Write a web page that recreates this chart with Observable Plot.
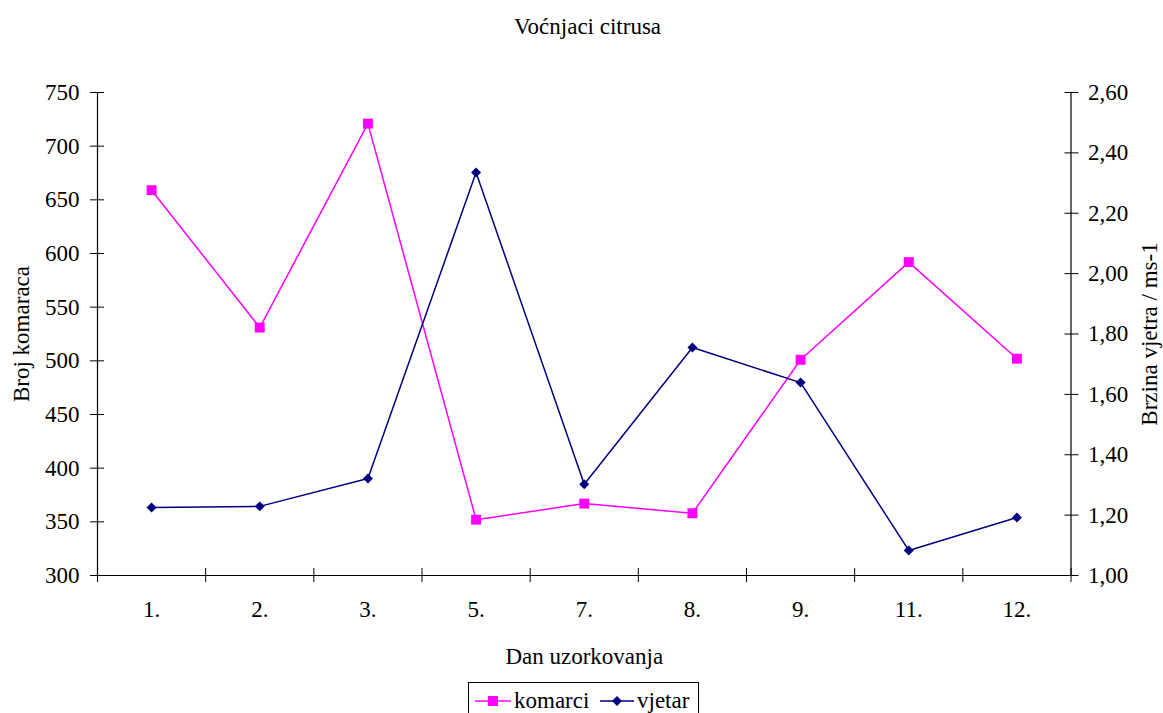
<!DOCTYPE html>
<html><head><meta charset="utf-8">
<script src="https://cdn.jsdelivr.net/npm/d3@7"></script>
<script src="https://cdn.jsdelivr.net/npm/@observablehq/plot@0.6"></script>
<style>
body{margin:0;width:1163px;height:713px;overflow:hidden;background:#fff;font-family:"Liberation Serif","Times New Roman",serif;color:#000;position:relative;}
#title{height:54px;line-height:54px;text-align:center;font-size:23px;padding-left:12px;}
#chart svg{display:block;}
#chart svg text{font-family:"Liberation Serif","Times New Roman",serif !important;}
#legend{position:absolute;left:468px;top:682px;width:231px;height:40px;border:1px solid #000;box-sizing:border-box;font-size:23px;}
#legend .it{position:absolute;top:4px;display:flex;align-items:center;height:28px;}
#legend svg{display:block;margin-right:3px;}
</style></head><body>
<div id="title">Voćnjaci citrusa</div>
<div id="chart"></div>
<div id="legend">
  <div class="it" style="left:6px"><svg width="36" height="14"><line x1="0" y1="7" x2="36" y2="7" stroke="#FF00FF" stroke-width="1.5"/><rect x="13" y="2" width="10" height="10" fill="#FF00FF"/></svg><span>komarci</span></div>
  <div class="it" style="left:131px"><svg width="34" height="14"><line x1="0" y1="7" x2="34" y2="7" stroke="#000080" stroke-width="1.5"/><path d="M17,2L22,7L17,12L12,7Z" fill="#000080"/></svg><span>vjetar</span></div>
</div>
<script>
const days = ["1.","2.","3.","5.","7.","8.","9.","11.","12."];
const komarci = [659, 531, 721, 352, 367, 358, 501, 592, 502];
const vjetar = [1.225, 1.229, 1.321, 2.335, 1.302, 1.755, 1.639, 1.083, 1.192];
const leftTicks = [300, 350, 400, 450, 500, 550, 600, 650, 700, 750];
const rightTicks = [1.0, 1.2, 1.4, 1.6, 1.8, 2.0, 2.2, 2.4, 2.6];
const leftDomain = [300, 750];
const rightDomain = [1.0, 2.6];

const toLeft = d3.scaleLinear(rightDomain, leftDomain);
const rows = days.map((d, i) => ({day: d, i: i + 0.5, komarci: komarci[i], vjetar: toLeft(vjetar[i])}));
const n = days.length;
const fmtR = v => d3.format(".2f")(toLeft.invert(v)).replace(".", ",");

const chart = Plot.plot({
  width: 1163, height: 628,
  marginLeft: 97, marginRight: 92.5, marginTop: 38, marginBottom: 107,
  style: {fontFamily: '"Liberation Serif","Times New Roman",serif', fontSize: "23px", color: "#000", background: "transparent"},
  x: {domain: [0, n]},
  y: {domain: leftDomain},
  marks: [
    Plot.ruleX([0, n], {stroke: "#000", strokeWidth: 1.2}),
    Plot.ruleY([leftDomain[0]], {stroke: "#000", strokeWidth: 1.2}),
    Plot.axisY(leftTicks, {anchor: "left", tickSize: 14, dx: 7, tickFormat: () => "", label: null}),
    Plot.axisY(leftTicks, {anchor: "left", tickSize: 0, tickPadding: 18, label: "Broj komaraca", labelAnchor: "center", labelOffset: 85, labelArrow: "none"}),
    Plot.axisY(rightTicks.map(toLeft), {anchor: "right", tickSize: 14, dx: -7, tickFormat: () => "", label: null}),
    Plot.axisY(rightTicks.map(toLeft), {anchor: "right", tickSize: 0, tickPadding: 17, tickFormat: fmtR, label: "Brzina vjetra / ms-1", labelAnchor: "center", labelOffset: 86, labelArrow: "none"}),
    Plot.axisX(d3.range(0, n + 1), {anchor: "bottom", tickSize: 14, dy: -7, tickFormat: () => "", label: null}),
    Plot.axisX(d3.range(n).map(i => i + 0.5), {anchor: "bottom", tickSize: 0, tickPadding: 25, tickFormat: v => days[Math.floor(v)], label: "Dan uzorkovanja", labelAnchor: "center", labelOffset: 88, labelArrow: "none"}),
    Plot.line(rows, {x: "i", y: "komarci", stroke: "#FF00FF", strokeWidth: 1.5}),
    Plot.dot(rows, {x: "i", y: "komarci", symbol: "square", r: 5.6, fill: "#FF00FF"}),
    Plot.line(rows, {x: "i", y: "vjetar", stroke: "#000080", strokeWidth: 1.5}),
    Plot.dot(rows, {x: "i", y: "vjetar", symbol: "diamond2", r: 4.5, fill: "#000080"})
  ]
});
document.getElementById("chart").appendChild(chart);
</script>
</body></html>
